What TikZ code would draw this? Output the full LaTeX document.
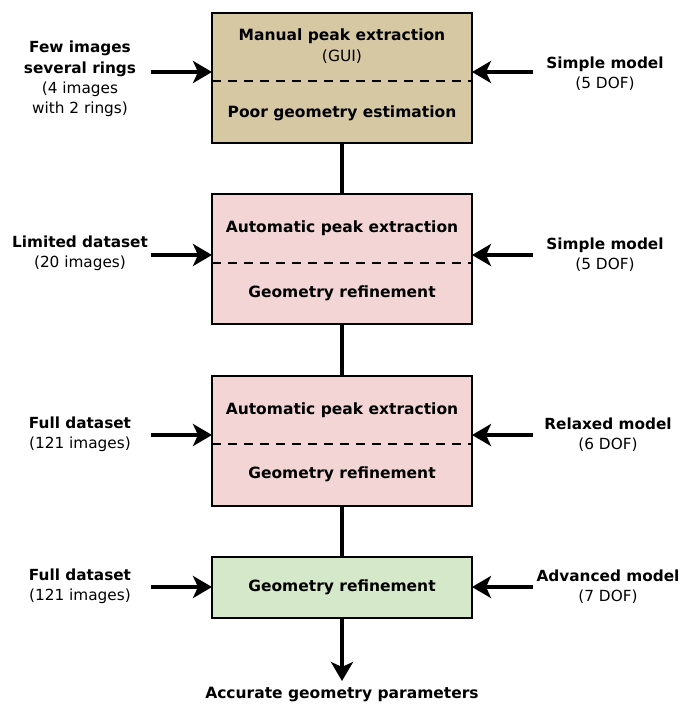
\documentclass[tikz,border=0pt]{standalone}
\usepackage{fontspec}
\setmainfont{DejaVu Sans}
\usetikzlibrary{arrows.meta}
\definecolor{tan}{RGB}{213,200,163}
\definecolor{pinkbox}{RGB}{243,213,213}
\definecolor{greenbox}{RGB}{213,232,202}
\begin{document}
\begin{tikzpicture}[x=1pt,y=-1pt,
  stagebox/.style={draw=black,line width=2pt,minimum width=260pt,inner sep=0pt},
  bt/.style={font=\fontsize{15.5}{18}\selectfont\bfseries,align=center},
  nt/.style={font=\fontsize{15.5}{18}\selectfont,align=center},
  lbl/.style={font=\fontsize{15.3}{20.3}\selectfont,align=center},
  inarrow/.style={line width=4pt,-{Stealth[length=19pt,width=22pt,inset=5pt]}},
  link/.style={line width=3.5pt},
  divider/.style={dashed,line width=1.5pt,dash pattern=on 9pt off 7pt}]
\useasboundingbox (0,0) rectangle (680,704);
% boxes
\node[stagebox,fill=tan,minimum height=130pt] (b1) at (342,78) {};
\node[stagebox,fill=pinkbox,minimum height=130pt] (b2) at (342,259) {};
\node[stagebox,fill=pinkbox,minimum height=130pt] (b3) at (342,441) {};
\node[stagebox,fill=greenbox,minimum height=61pt] (b4) at (342,587.5) {};
% dividers
\coordinate (d1l) at (212,81); \coordinate (d1r) at (472,81);
\coordinate (d2l) at (212,263); \coordinate (d2r) at (472,263);
\coordinate (d3l) at (212,444); \coordinate (d3r) at (472,444);
\draw[divider] (d1l) -- (d1r);
\draw[divider] (d2l) -- (d2r);
\draw[divider] (d3l) -- (d3r);
% box texts
\node[bt] (t1a) at (342,36) {Manual peak extraction};
\node[nt] (t1b) at (342,57) {(GUI)};
\node[bt] (t1c) at (342,113) {Poor geometry estimation};
\node[bt] (t2a) at (342,228) {Automatic peak extraction};
\node[bt] (t2b) at (342,293) {Geometry refinement};
\node[bt] (t3a) at (342,410) {Automatic peak extraction};
\node[bt] (t3b) at (342,474) {Geometry refinement};
\node[bt] (t4a) at (342,587) {Geometry refinement};
% connectors between boxes
\draw[link] (b1.south) -- (b2.north);
\draw[link] (b2.south) -- (b3.north);
\draw[link] (b3.south) -- (b4.north);
\coordinate (outend) at (342,681);
\draw[inarrow] (b4.south) -- (outend);
\node[bt] (out) at (342,695) {Accurate geometry parameters};
% left inputs
\node[lbl] (l1) at (80,79) {\textbf{Few images}\\\textbf{several rings}\\(4 images\\with 2 rings)};
\node[lbl] (l2) at (80,253) {\textbf{Limited dataset}\\(20 images)};
\node[lbl] (l3) at (80,434) {\textbf{Full dataset}\\(121 images)};
\node[lbl] (l4) at (80,586) {\textbf{Full dataset}\\(121 images)};
\coordinate (l1s) at (151,72); \coordinate (l1e) at (212,72);
\coordinate (l2s) at (151,255); \coordinate (l2e) at (212,255);
\coordinate (l3s) at (151,435); \coordinate (l3e) at (212,435);
\coordinate (l4s) at (151,587); \coordinate (l4e) at (212,587);
\draw[inarrow] (l1s) -- (l1e);
\draw[inarrow] (l2s) -- (l2e);
\draw[inarrow] (l3s) -- (l3e);
\draw[inarrow] (l4s) -- (l4e);
% right inputs
\node[lbl] (r1) at (605,74) {\textbf{Simple model}\\(5 DOF)};
\node[lbl] (r2) at (605,255) {\textbf{Simple model}\\(5 DOF)};
\node[lbl] (r3) at (608,435) {\textbf{Relaxed model}\\(6 DOF)};
\node[lbl] (r4) at (608,587) {\textbf{Advanced model}\\(7 DOF)};
\coordinate (r1s) at (533,72); \coordinate (r1e) at (472,72);
\coordinate (r2s) at (533,255); \coordinate (r2e) at (472,255);
\coordinate (r3s) at (533,435); \coordinate (r3e) at (472,435);
\coordinate (r4s) at (533,587); \coordinate (r4e) at (472,587);
\draw[inarrow] (r1s) -- (r1e);
\draw[inarrow] (r2s) -- (r2e);
\draw[inarrow] (r3s) -- (r3e);
\draw[inarrow] (r4s) -- (r4e);
\end{tikzpicture}
\end{document}
